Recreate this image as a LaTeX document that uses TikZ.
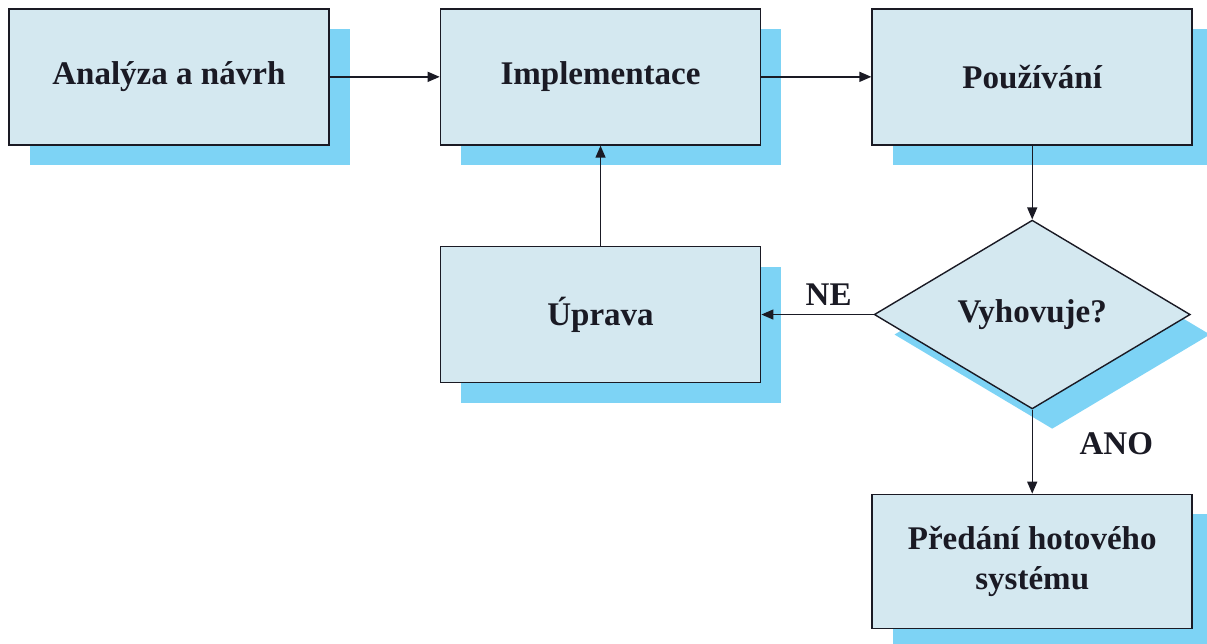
\documentclass[tikz,border=0pt]{standalone}
\usepackage{fontspec}
\setmainfont{Liberation Serif}
\usetikzlibrary{shapes.geometric,arrows.meta,positioning,shadows}
\usepackage{xcolor}
\definecolor{boxfill}{RGB}{212,232,240}
\definecolor{shadowblue}{RGB}{125,211,245}
\definecolor{inkdark}{RGB}{26,26,36}

\tikzset{
  stepbox/.style={draw=inkdark, line width=1.2pt, fill=boxfill, minimum width=8cm, minimum height=3.4cm,
    align=center, drop shadow={fill=shadowblue, opacity=1, shadow xshift=0.52cm, shadow yshift=-0.5cm}},
  decision/.style={diamond, draw=inkdark, line width=1pt, fill=boxfill, minimum width=7.9cm, minimum height=4.72cm,
    inner sep=0pt, drop shadow={fill=shadowblue, opacity=1, shadow xshift=0.5cm, shadow yshift=-0.5cm}},
  lbl/.style={text=inkdark},
  link/.style={->, draw=inkdark, line width=1pt}
}

\begin{document}
\begin{tikzpicture}[font=\fontsize{23.5}{29}\selectfont\bfseries, text=inkdark, >={Triangle[length=0.3cm,width=0.25cm]}, node distance=2.75cm]
    \useasboundingbox (0,0) rectangle (30.175,-16.075);

    \node[stepbox, anchor=north west] (analyza) at (0.2,-0.2) {Analýza a návrh};
    \node[stepbox, right=2.75cm of analyza] (impl) {Implementace};
    \node[stepbox, right=2.75cm of impl] (pouz) {Používání};
    \node[stepbox, below=2.5cm of impl] (uprava) {Úprava};

    \node[decision] (vyhov) at (pouz.center |- uprava.center) {Vyhovuje?};
    \node[stepbox, below=2.1cm of vyhov, minimum height=3.35cm] (predani) {Předání hotového\\systému};

    \draw[link] (analyza) -- (impl);
    \draw[link] (impl) -- (pouz);
    \draw[link] (pouz) -- (vyhov);
    \draw[link] (vyhov.west) -- node[lbl, pos=0.4, above=0.1cm] (ne) {NE} (uprava.east);
    \draw[link] (vyhov.south) -- node[lbl, pos=0.4, right=1.05cm] (ano) {ANO} (predani.north);
    \draw[link] (uprava) -- (impl);
\end{tikzpicture}
\end{document}
